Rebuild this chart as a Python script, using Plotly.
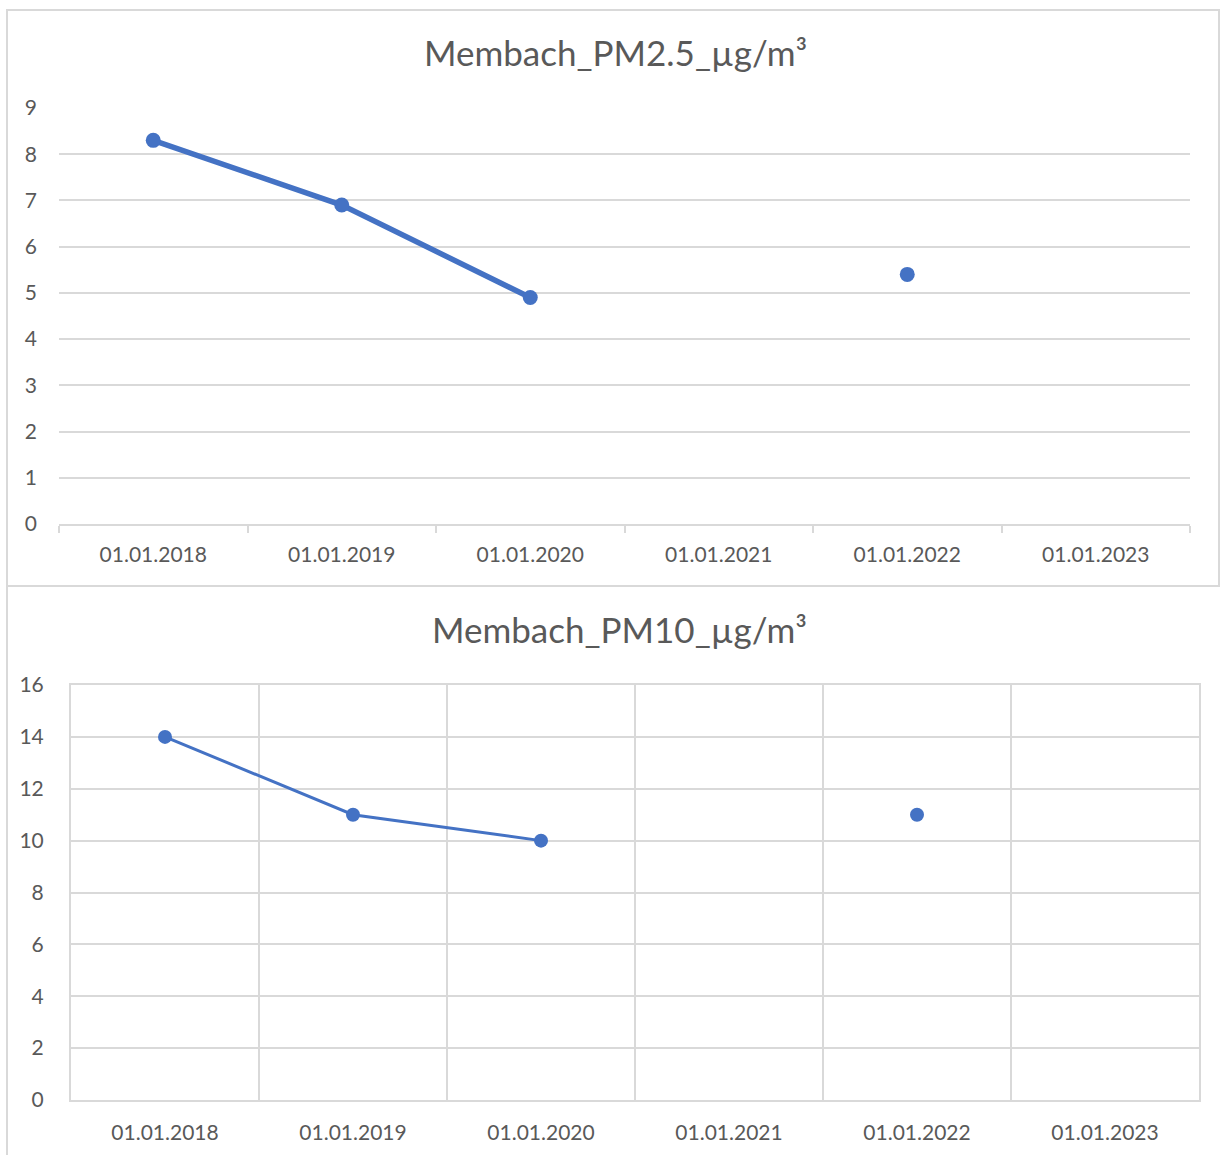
import plotly.graph_objects as go

dates = ["01.01.2018", "01.01.2019", "01.01.2020", "01.01.2021", "01.01.2022", "01.01.2023"]
pm25 = [8.3, 6.9, 4.9, None, 5.4, None]
pm10 = [14, 11, 10, None, 11, None]
title_pm25 = "Membach_PM2.5_µg/m³"
title_pm10 = "Membach_PM10_µg/m³"

W, H = 1221, 1155
BLUE = "#4472C4"
GRID = "#D9D9D9"
TXT = "#595959"
FONT = "Lato"

def px_x(v):
    return v / W

def px_y(v):
    return 1 - v / H

fig = go.Figure()
fig.add_trace(go.Scatter(x=dates, y=pm25, mode="lines+markers", xaxis="x", yaxis="y",
                         line=dict(color=BLUE, width=5.5), marker=dict(color=BLUE, size=15),
                         showlegend=False, hoverinfo="x+y"))
fig.add_trace(go.Scatter(x=dates, y=pm10, mode="lines+markers", xaxis="x2", yaxis="y2",
                         line=dict(color=BLUE, width=3), marker=dict(color=BLUE, size=14),
                         showlegend=False, hoverinfo="x+y"))

tickfont = dict(family=FONT, size=21, color=TXT)

fig.update_layout(
    width=W, height=H,
    autosize=False,
    margin=dict(l=0, r=0, t=0, b=0, pad=0, autoexpand=False),
    paper_bgcolor="white", plot_bgcolor="white",
    font=dict(family=FONT, color=TXT),
    xaxis=dict(domain=[px_x(59), px_x(1190)], anchor="y", type="category",
               categoryorder="array", categoryarray=dates, automargin=False,
               tickson="boundaries", ticks="outside", ticklen=7, tickcolor=GRID, tickwidth=2,
               showline=True, linecolor=GRID, linewidth=2, showgrid=False,
               tickfont=tickfont, ticklabelstandoff=11, range=[-0.5, 5.5], fixedrange=True),
    yaxis=dict(domain=[px_y(524), px_y(108)], anchor="x", range=[0, 9], dtick=1,
               showgrid=True, gridcolor=GRID, gridwidth=2, zeroline=False, automargin=False,
               showline=False, ticks="", tickfont=tickfont, ticklabelstandoff=21, fixedrange=True),
    xaxis2=dict(domain=[px_x(71), px_x(1199)], anchor="y2", type="category",
                categoryorder="array", categoryarray=dates, automargin=False,
                tickson="boundaries", ticks="", showgrid=True, gridcolor=GRID, gridwidth=2,
                showline=True, linecolor=GRID, linewidth=2, mirror=True,
                tickfont=tickfont, ticklabelstandoff=13, range=[-0.5, 5.5], fixedrange=True),
    yaxis2=dict(domain=[px_y(1100), px_y(685)], anchor="x2", range=[0, 16], dtick=2,
                showgrid=True, gridcolor=GRID, gridwidth=2, zeroline=False, automargin=False,
                showline=True, linecolor=GRID, linewidth=2, mirror=True,
                ticks="", tickfont=tickfont, ticklabelstandoff=21, fixedrange=True),
    annotations=[
        dict(text=title_pm25, x=px_x(615), y=px_y(52), xref="paper", yref="paper",
             xanchor="center", yanchor="middle", showarrow=False,
             font=dict(family=FONT, size=35, color=TXT)),
        dict(text=title_pm10, x=px_x(619), y=px_y(629), xref="paper", yref="paper",
             xanchor="center", yanchor="middle", showarrow=False,
             font=dict(family=FONT, size=35, color=TXT)),
    ],
    shapes=[
        dict(type="rect", xref="paper", yref="paper", x0=px_x(7), x1=px_x(1219),
             y0=px_y(586), y1=px_y(10), line=dict(color=GRID, width=2), layer="below"),
        dict(type="line", xref="paper", yref="paper", x0=px_x(7), x1=px_x(7),
             y0=px_y(586), y1=0, line=dict(color=GRID, width=2), layer="below"),
    ],
)

post = ("document.body.style.margin='0';document.body.style.padding='0';"
        "document.body.style.overflow='hidden';"
        "document.documentElement.style.overflow='hidden';")
fig.write_html("out.html", post_script=post,
               config={"responsive": False, "displayModeBar": False})
